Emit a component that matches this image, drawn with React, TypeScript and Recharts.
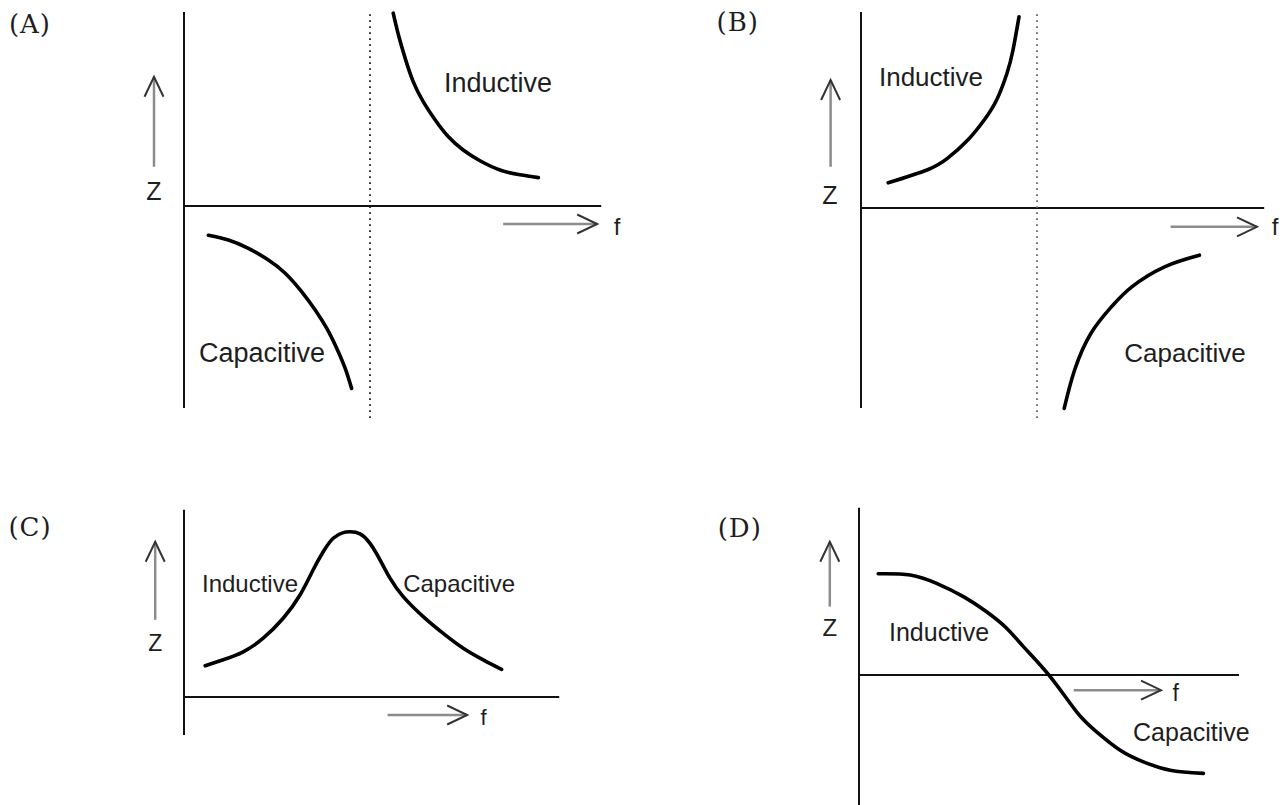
import React from 'react';
import { LineChart, Line, XAxis, YAxis, ReferenceLine, ReferenceDot } from 'recharts';

interface Pt {
  f: number;
  z: number;
}

// curve points, in (f, Z) units
const aInductive: Pt[] = [
  { f: 5.23, z: 4.82 }, { f: 5.36, z: 4.28 }, { f: 5.53, z: 3.69 }, { f: 5.73, z: 3.11 },
  { f: 5.98, z: 2.61 }, { f: 6.28, z: 2.15 }, { f: 6.61, z: 1.73 }, { f: 6.98, z: 1.4 },
  { f: 7.4, z: 1.13 }, { f: 7.9, z: 0.9 }, { f: 8.4, z: 0.78 }, { f: 8.86, z: 0.71 },
];
const aCapacitive: Pt[] = [
  { f: 0.61, z: -0.73 }, { f: 1.11, z: -0.85 }, { f: 1.61, z: -1.06 }, { f: 2.11, z: -1.35 },
  { f: 2.53, z: -1.68 }, { f: 2.94, z: -2.14 }, { f: 3.28, z: -2.6 }, { f: 3.57, z: -3.06 },
  { f: 3.82, z: -3.56 }, { f: 4.03, z: -4.06 }, { f: 4.19, z: -4.56 },
];
const bInductive: Pt[] = [
  { f: 0.68, z: 0.63 }, { f: 1.65, z: 0.95 }, { f: 2.16, z: 1.24 }, { f: 2.67, z: 1.7 },
  { f: 3.08, z: 2.2 }, { f: 3.39, z: 2.7 }, { f: 3.65, z: 3.37 }, { f: 3.8, z: 3.95 },
  { f: 3.95, z: 4.78 },
];
const bCapacitive: Pt[] = [
  { f: 5.08, z: -5.01 }, { f: 5.34, z: -4.05 }, { f: 5.75, z: -3.13 }, { f: 6.26, z: -2.47 },
  { f: 6.77, z: -1.97 }, { f: 7.59, z: -1.47 }, { f: 8.46, z: -1.18 },
];
const cCurve: Pt[] = [
  { f: 0.53, z: 0.78 }, { f: 0.98, z: 0.93 }, { f: 1.48, z: 1.13 }, { f: 1.98, z: 1.47 },
  { f: 2.48, z: 1.97 }, { f: 2.9, z: 2.55 }, { f: 3.23, z: 3.18 }, { f: 3.48, z: 3.63 },
  { f: 3.73, z: 3.97 }, { f: 3.98, z: 4.11 }, { f: 4.15, z: 4.13 }, { f: 4.4, z: 4.08 },
  { f: 4.65, z: 3.84 }, { f: 4.9, z: 3.43 }, { f: 5.15, z: 2.97 }, { f: 5.48, z: 2.51 },
  { f: 5.98, z: 2.01 }, { f: 6.48, z: 1.59 }, { f: 6.98, z: 1.22 }, { f: 7.48, z: 0.93 },
  { f: 7.94, z: 0.69 },
];
const dCurve: Pt[] = [
  { f: 0.48, z: 2.53 }, { f: 1.28, z: 2.5 }, { f: 1.94, z: 2.29 }, { f: 2.61, z: 1.96 },
  { f: 3.19, z: 1.58 }, { f: 3.69, z: 1.17 }, { f: 4.11, z: 0.71 }, { f: 4.78, z: -0.04 },
  { f: 5.44, z: -0.92 }, { f: 5.94, z: -1.42 }, { f: 6.53, z: -1.88 }, { f: 7.11, z: -2.17 },
  { f: 7.78, z: -2.38 }, { f: 8.61, z: -2.46 },
];

const panelTitles = ['(A)', '(B)', '(C)', '(D)'];
const INDUCTIVE = 'Inductive';
const CAPACITIVE = 'Capacitive';

interface TextSpec {
  f: number;
  z: number;
  text: string;
  size: number;
  serif?: boolean;
}

interface PanelSpec {
  left: number;
  top: number;
  width: number;
  height: number;
  fDomain: [number, number];
  zDomain: [number, number];
  yAxis: [number, number];
  xAxisEnd: number;
  resonance?: { f: number; z: [number, number]; color: string };
  upArrow: { f: number; z: [number, number] };
  rightArrow: { z: number; f: [number, number] };
  curves: Pt[][];
  texts: TextSpec[];
}

const panels: PanelSpec[] = [
  {
    left: 0, top: 6, width: 644, height: 420,
    fDomain: [-4.6, 11.5], zDomain: [-5.5, 5.0],
    yAxis: [-5.05, 4.85], xAxisEnd: 10.43,
    resonance: { f: 4.65, z: [-5.3, 4.85], color: '#222' },
    upArrow: { f: -0.75, z: [0.98, 3.23] },
    rightArrow: { z: -0.45, f: [7.98, 10.33] },
    curves: [aInductive, aCapacitive],
    texts: [
      { f: -3.85, z: 4.55, text: panelTitles[0], size: 26, serif: true },
      { f: -0.75, z: 0.38, text: 'Z', size: 25 },
      { f: 10.83, z: -0.5, text: 'f', size: 24 },
      { f: 7.85, z: 3.08, text: INDUCTIVE, size: 27 },
      { f: 1.95, z: -3.68, text: CAPACITIVE, size: 27 },
    ],
  },
  {
    left: 701, top: 8, width: 582, height: 420,
    fDomain: [-4.0, 10.55], zDomain: [-5.5, 5.0],
    yAxis: [-5.0, 4.9], xAxisEnd: 10.08,
    resonance: { f: 4.4, z: [-5.25, 4.9], color: '#666' },
    upArrow: { f: -0.76, z: [1.03, 3.2] },
    rightArrow: { z: -0.47, f: [7.74, 9.9] },
    curves: [bInductive, bCapacitive],
    texts: [
      { f: -3.08, z: 4.65, text: panelTitles[1], size: 26, serif: true },
      { f: -0.78, z: 0.33, text: 'Z', size: 25 },
      { f: 10.35, z: -0.47, text: 'f', size: 24 },
      { f: 1.75, z: 3.28, text: INDUCTIVE, size: 26 },
      { f: 8.1, z: -3.63, text: CAPACITIVE, size: 26 },
    ],
  },
  {
    left: 0, top: 505, width: 576, height: 240,
    fDomain: [-4.6, 9.8], zDomain: [-1.2, 4.8],
    yAxis: [-0.95, 4.68], xAxisEnd: 9.38,
    upArrow: { f: -0.72, z: [1.93, 3.88] },
    rightArrow: { z: -0.45, f: [5.09, 7.08] },
    curves: [cCurve],
    texts: [
      { f: -3.85, z: 4.25, text: panelTitles[2], size: 26, serif: true },
      { f: -0.72, z: 1.35, text: 'Z', size: 23 },
      { f: 7.49, z: -0.5, text: 'f', size: 22 },
      { f: 1.65, z: 2.85, text: INDUCTIVE, size: 24 },
      { f: 6.88, z: 2.85, text: CAPACITIVE, size: 24 },
    ],
  },
  {
    left: 699, top: 499, width: 584, height: 316,
    fDomain: [-4.0, 10.6], zDomain: [-3.5, 4.4],
    yAxis: [-3.4, 4.18], xAxisEnd: 9.5,
    upArrow: { f: -0.73, z: [1.71, 3.33] },
    rightArrow: { z: -0.38, f: [5.37, 7.55] },
    curves: [dCurve],
    texts: [
      { f: -2.98, z: 3.68, text: panelTitles[3], size: 26, serif: true },
      { f: -0.73, z: 1.18, text: 'Z', size: 24 },
      { f: 7.92, z: -0.45, text: 'f', size: 23 },
      { f: 2.0, z: 1.08, text: INDUCTIVE, size: 25 },
      { f: 8.31, z: -1.42, text: CAPACITIVE, size: 25 },
    ],
  },
];

// gray shaft with an open chevron head at the second point
const arrowShape = (props: any) => {
  const { x1, y1, x2, y2 } = props;
  const dx = x2 - x1;
  const dy = y2 - y1;
  const len = Math.hypot(dx, dy) || 1;
  const ux = dx / len;
  const uy = dy / len;
  const bx = x2 - ux * 20;
  const by = y2 - uy * 20;
  const px = -uy * 9.5;
  const py = ux * 9.5;
  return (
    <g>
      <line x1={x1} y1={y1} x2={x2} y2={y2} stroke="#8c8c8c" strokeWidth={2.5} />
      <polyline
        points={`${bx + px},${by + py} ${x2},${y2} ${bx - px},${by - py}`}
        fill="none"
        stroke="#333"
        strokeWidth={2}
      />
    </g>
  );
};

const textShape = (t: TextSpec) => (props: any) => (
  <text
    x={props.cx}
    y={props.cy}
    textAnchor="middle"
    dominantBaseline="central"
    fontSize={t.size}
    fill="#1e1e1e"
    fontFamily={t.serif ? '"DejaVu Serif", serif' : '"Liberation Sans", Arial, sans-serif'}
    letterSpacing={t.serif ? 1 : 0}
  >
    {t.text}
  </text>
);

const Panel: React.FC<{ spec: PanelSpec }> = ({ spec }) => (
  <div style={{ position: 'absolute', left: spec.left, top: spec.top }}>
    <LineChart width={spec.width} height={spec.height} margin={{ top: 0, right: 0, bottom: 0, left: 0 }}>
      <XAxis type="number" dataKey="f" domain={spec.fDomain} hide allowDataOverflow />
      <YAxis type="number" dataKey="z" domain={spec.zDomain} hide allowDataOverflow />
      <ReferenceLine segment={[{ x: 0, y: spec.yAxis[0] }, { x: 0, y: spec.yAxis[1] }]} stroke="#111" strokeWidth={2} />
      <ReferenceLine segment={[{ x: 0, y: 0 }, { x: spec.xAxisEnd, y: 0 }]} stroke="#111" strokeWidth={2} />
      {spec.resonance && (
        <ReferenceLine
          segment={[{ x: spec.resonance.f, y: spec.resonance.z[0] }, { x: spec.resonance.f, y: spec.resonance.z[1] }]}
          stroke={spec.resonance.color}
          strokeWidth={1.8}
          strokeDasharray="1.8 4.2"
        />
      )}
      <ReferenceLine
        segment={[{ x: spec.upArrow.f, y: spec.upArrow.z[0] }, { x: spec.upArrow.f, y: spec.upArrow.z[1] }]}
        shape={arrowShape}
      />
      <ReferenceLine
        segment={[{ x: spec.rightArrow.f[0], y: spec.rightArrow.z }, { x: spec.rightArrow.f[1], y: spec.rightArrow.z }]}
        shape={arrowShape}
      />
      {spec.curves.map((pts, i) => (
        <Line
          key={`curve-${i}`}
          data={pts}
          dataKey="z"
          type="natural"
          stroke="#000"
          strokeWidth={3.6}
          strokeLinecap="round"
          dot={false}
          activeDot={false}
          isAnimationActive={false}
        />
      ))}
      {spec.texts.map((t, i) => (
        <ReferenceDot key={`txt-${i}`} x={t.f} y={t.z} r={1} shape={textShape(t)} />
      ))}
    </LineChart>
  </div>
);

export default function App() {
  return (
    <div
      style={{
        position: 'absolute',
        left: 0,
        top: 0,
        width: 1283,
        height: 805,
        overflow: 'hidden',
        background: '#fff',
      }}
    >
      {panels.map((p, i) => (
        <Panel key={`panel-${i}`} spec={p} />
      ))}
    </div>
  );
}
